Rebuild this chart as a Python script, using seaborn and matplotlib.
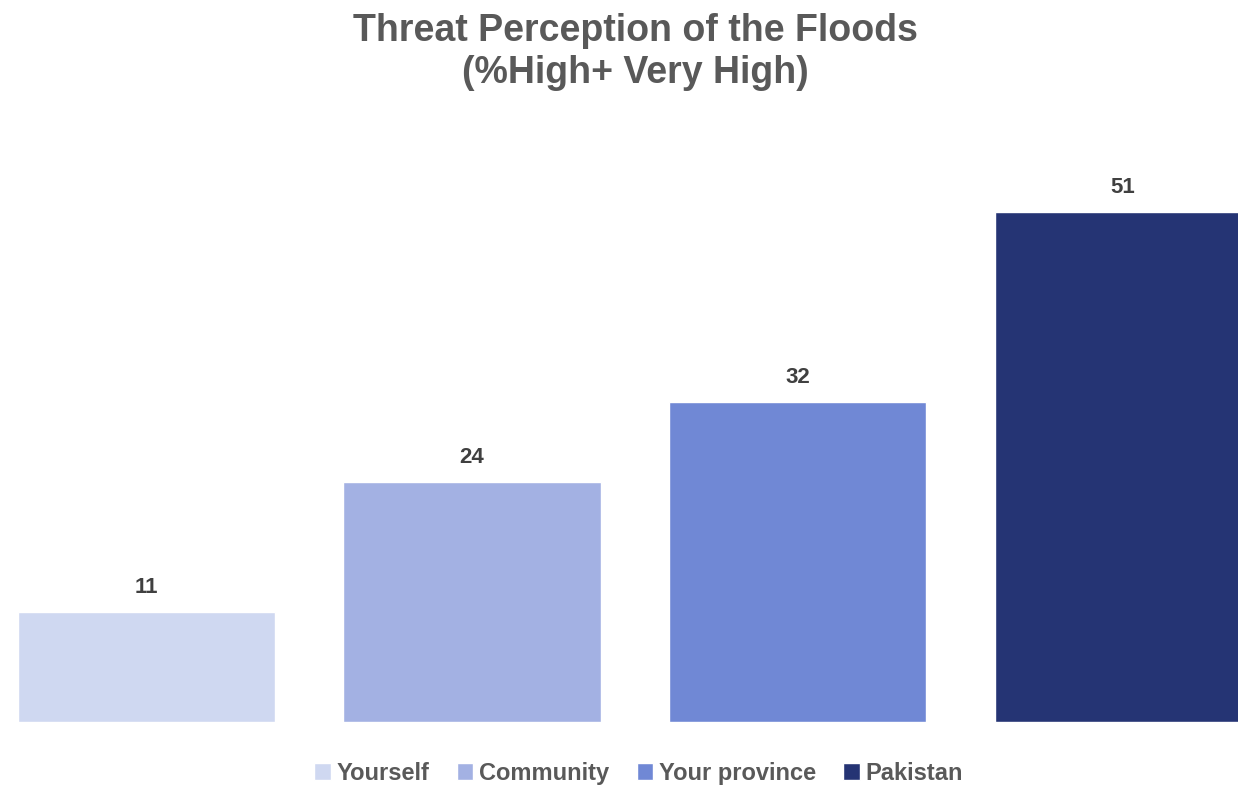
import matplotlib
matplotlib.use("Agg")
import matplotlib.pyplot as plt
import seaborn as sns
import pandas as pd
from matplotlib.patches import Patch

# данные графика
categories = ["Yourself", "Community", "Your province", "Pakistan"]
values = [11, 24, 32, 51]
colors = ["#CFD8F1", "#A3B1E3", "#7088D5", "#253474"]

sns.set_theme(style="white")
plt.rcParams["font.family"] = ["Liberation Sans", "DejaVu Sans"]

df = pd.DataFrame({"category": categories, "value": values})

fig = plt.figure(figsize=(12.38, 7.85), dpi=100)
ax = fig.add_axes([0, 63 / 785, 1, 600 / 785])

sns.barplot(data=df, x="category", y="value", hue="category",
            palette=colors, width=0.79, ax=ax, legend=False, saturation=1)

ax.set_xlim(-0.45, 3.353)
ax.set_ylim(0, 60)
for side in ["top", "right", "left", "bottom"]:
    ax.spines[side].set_visible(False)
ax.set_xticks([])
ax.set_yticks([])
ax.set_xlabel("")
ax.set_ylabel("")

# подписи значений над столбцами
for cont in ax.containers:
    ax.bar_label(cont, padding=10, fontsize=16, fontweight="bold", color="#404040")

fig.text(0.513, 0.934, "Threat Perception of the Floods\n(%High+ Very High)",
         ha="center", va="center", fontsize=27, fontweight="bold",
         color="#595959", linespacing=1.2)

handles = [Patch(facecolor=c, label=n) for n, c in zip(categories, colors)]
fig.legend(handles=handles, loc="center", bbox_to_anchor=(0.516, 0.015),
           ncol=4, frameon=False, handlelength=0.7, handleheight=0.7,
           handletextpad=0.25, columnspacing=1.15,
           prop={"weight": "bold", "size": 17})
for t in fig.legends[0].get_texts():
    t.set_color("#595959")

fig.savefig("out.png", dpi=100)
